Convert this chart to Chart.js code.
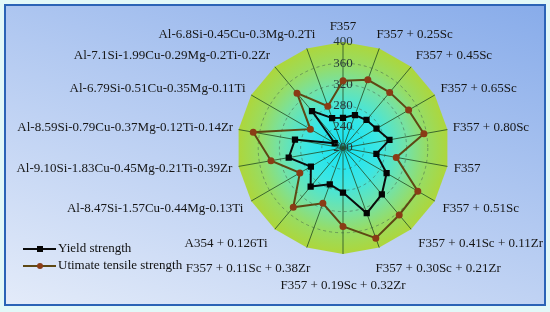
<!DOCTYPE html>
<html lang="en">
<head>
<meta charset="UTF-8">
<title>Yield and tensile strength radar</title>
<script src="https://cdn.jsdelivr.net/npm/chart.js@4.4.1/dist/chart.umd.min.js"></script>
<style>
  html, body { margin: 0; padding: 0; background: #e2f8f8; }
  #frame {
    position: absolute; left: 4px; top: 4px; width: 538px; height: 298px;
    border: 2px solid #2b63b6;
    background: linear-gradient(200deg, #88acea 0%, #b2c9f1 45%, #e3ebf9 100%);
  }
  #strength { position: absolute; left: 0; top: 0; }
</style>
</head>
<body>
<div id="frame"></div>
<canvas id="strength" width="550" height="312"></canvas>
<script>
  // categories run clockwise from the top
  const categories = [
    'F357', 'F357 + 0.25Sc', 'F357 + 0.45Sc', 'F357 + 0.65Sc', 'F357 + 0.80Sc',
    'F357', 'F357 + 0.51Sc', 'F357 + 0.41Sc + 0.11Zr', 'F357 + 0.30Sc + 0.21Zr',
    'F357 + 0.19Sc + 0.32Zr', 'F357 + 0.11Sc + 0.38Zr', 'A354 + 0.126Ti',
    'Al-8.47Si-1.57Cu-0.44Mg-0.13Ti', 'Al-9.10Si-1.83Cu-0.45Mg-0.21Ti-0.39Zr',
    'Al-8.59Si-0.79Cu-0.37Mg-0.12Ti-0.14Zr', 'Al-6.79Si-0.51Cu-0.35Mg-0.11Ti',
    'Al-7.1Si-1.99Cu-0.29Mg-0.2Ti-0.2Zr', 'Al-6.8Si-0.45Cu-0.3Mg-0.2Ti'
  ];
  const yieldStrength   = [257, 266, 269, 273, 289, 264, 295, 314, 331, 284, 273, 295, 270, 304, 292, 218, 291, 260];
  const tensileStrength = [327, 337, 337, 343, 355, 302, 363, 365, 381, 348, 311, 346, 294, 338, 372, 271, 335, 284];
  const scaleMin = 200;
  const scaleMax = 400;
  const scaleStep = 40;

  const serif = "'Liberation Serif', 'Times New Roman', serif";

  // green-to-cyan polygon behind the grid
  const webFill = {
    id: 'webFill',
    beforeDraw(chart) {
      const r = chart.scales.r;
      const ctx = chart.ctx;
      const g = ctx.createRadialGradient(r.xCenter, r.yCenter, 0, r.xCenter, r.yCenter, r.drawingArea);
      g.addColorStop(0, '#12e4f8');
      g.addColorStop(0.35, '#3ee6e2');
      g.addColorStop(0.6, '#74e2a6');
      g.addColorStop(0.8, '#98dc62');
      g.addColorStop(1, '#aed63a');
      ctx.save();
      ctx.beginPath();
      categories.forEach((c, i) => {
        const p = r.getPointPosition(i, r.drawingArea);
        if (i) ctx.lineTo(p.x, p.y); else ctx.moveTo(p.x, p.y);
      });
      ctx.closePath();
      ctx.fillStyle = g;
      ctx.fill();
      ctx.restore();
    }
  };

  // category names around the web + the "200" tick at the centre
  const outerLabels = {
    id: 'outerLabels',
    afterDraw(chart) {
      const r = chart.scales.r;
      const ctx = chart.ctx;
      ctx.save();
      ctx.font = '13px ' + serif;
      ctx.textAlign = 'center';
      ctx.textBaseline = 'middle';
      ctx.fillStyle = '#263838';
      ctx.fillText(r.ticks[0].label, r.xCenter, r.yCenter);
      ctx.fillStyle = '#161616';
      categories.forEach((label, i) => {
        const a = r.getIndexAngle(i);
        const s = Math.sin(a), c = Math.cos(a);
        // lower labels sit a bit further out, the bottom one most
        const k = c > 0 ? 3 : 8 + 12 * Math.pow(Math.abs(c), 20);
        const pad = 5 + k * Math.abs(c);
        const p = r.getPointPosition(i, r.drawingArea + pad);
        const w = ctx.measureText(label).width;
        const fx = Math.sign(s) * Math.min(1, 2.5 * Math.abs(s));
        ctx.fillText(label, p.x + fx * w / 2, p.y - c * 7);
      });
      ctx.restore();
    }
  };

  const legendBox = {
    id: 'legendBox',
    afterDraw(chart) {
      const ctx = chart.ctx;
      ctx.save();
      ctx.font = '13px ' + serif;
      ctx.textBaseline = 'middle';
      chart.data.datasets.forEach((ds, i) => {
        const y = 249 + i * 17;
        ctx.strokeStyle = ds.borderColor;
        ctx.lineWidth = 2;
        ctx.beginPath();
        ctx.moveTo(23, y);
        ctx.lineTo(56, y);
        ctx.stroke();
        ctx.fillStyle = ds.pointBackgroundColor;
        if (ds.pointStyle === 'rect') {
          ctx.fillRect(37, y - 3, 6, 6);
        } else {
          ctx.beginPath();
          ctx.arc(40, y, 3, 0, Math.PI * 2);
          ctx.fill();
        }
        ctx.fillStyle = '#111';
        ctx.fillText(ds.label, 58, y);
      });
      ctx.restore();
    }
  };

  const tickCount = (scaleMax - scaleMin) / scaleStep + 1;

  new Chart(document.getElementById('strength'), {
    type: 'radar',
    data: {
      labels: categories,
      datasets: [{
        label: 'Yield strength',
        data: yieldStrength,
        borderColor: '#0b0b0b',
        backgroundColor: 'transparent',
        borderWidth: 2,
        pointStyle: 'rect',
        pointRadius: 3,
        pointBackgroundColor: '#050505',
        pointBorderColor: '#050505',
        fill: false
      }, {
        label: 'Utimate tensile strength',
        data: tensileStrength,
        borderColor: '#5e4814',
        backgroundColor: 'transparent',
        borderWidth: 2,
        pointStyle: 'circle',
        pointRadius: 2.5,
        pointBackgroundColor: '#8a3c16',
        pointBorderColor: '#8a3c16',
        fill: false
      }]
    },
    options: {
      responsive: false,
      animation: false,
      // radial scale keeps 8.5px for tick text on each side, so 229px box -> radius 106
      layout: { padding: { left: 229, right: 92, top: 34, bottom: 49 } },
      plugins: { legend: { display: false }, tooltip: { enabled: false } },
      elements: { line: { tension: 0 } },
      scales: {
        r: {
          min: scaleMin,
          max: scaleMax,
          ticks: {
            stepSize: scaleStep,
            showLabelBackdrop: false,
            color: '#263838',
            font: { family: serif, size: 13 }
          },
          pointLabels: { display: false },
          grid: {
            circular: true,
            lineWidth: 1,
            color: ctx => ctx.index === tickCount - 1 ? 'transparent' : 'rgba(70,100,80,0.55)'
          },
          border: { dash: [3, 3] },
          angleLines: { color: 'rgba(35,75,35,0.8)', lineWidth: 1 }
        }
      }
    },
    plugins: [webFill, outerLabels, legendBox]
  });
</script>
</body>
</html>
